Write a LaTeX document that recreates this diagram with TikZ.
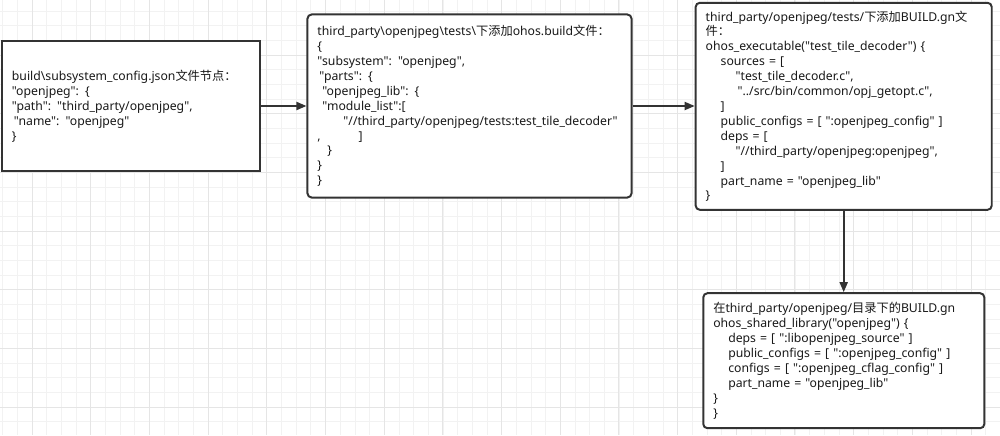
\documentclass[tikz,border=0pt]{standalone}
\usepackage{fontspec}
\setmainfont{Noto Sans}[Ligatures=TeXOff]
\newfontfamily\cjk{Noto Sans CJK SC}[Ligatures=TeXOff]
\usetikzlibrary{arrows.meta}
\newlength{\pxunit}
\setlength{\pxunit}{0.025cm}
\newcommand{\pxind}[1]{\hspace*{#1\pxunit}}

\begin{document}
\begin{tikzpicture}[x=0.025cm,y=-0.025cm,line width=.35pt,
  font=\fontsize{8.7pt}{10.6pt}\selectfont,
  gridminor/.style={draw=black!5,line width=.4pt},
  gridmajor/.style={draw=black!10,line width=.5pt},
  codebox/.style={draw=black!80,line width=1.4pt,fill=white,text=black!90,
    align=left,inner xsep=0.25cm,inner ysep=0pt},
  flow/.style={draw=black!80,line width=1.3pt,-{Triangle[length=0.25cm,width=0.2cm]}}]
% page and grid
\fill[white] (0,0) rectangle (1000,435);
\useasboundingbox (0,0) rectangle (1000,435);
\foreach \i in {0,...,68} \draw[gridminor] ({2.7+14.67*\i},0) -- ({2.7+14.67*\i},435);
\foreach \j in {0,...,29} \draw[gridminor] (0,{11+14.67*\j}) -- (1000,{11+14.67*\j});
\foreach \i in {0,...,16} \draw[gridmajor] ({32+58.68*\i},0) -- ({32+58.68*\i},435);
\foreach \j in {-1,...,6} \draw[gridmajor] (0,{55+58.68*\j}) -- (1000,{55+58.68*\j});
% boxes
\node[codebox,text width=5.95cm,minimum height=3.25cm] (cfg) at (131,106) {%
build\textbackslash subsystem\_config.json{\cjk 文件节点：}\\
"openjpeg": \{\\
"path": "third\_party/openjpeg",\\
\pxind{2}"name": "openjpeg"\\
\}};
\node[codebox,rounded corners=3pt,text width=7.6cm,minimum height=4.575cm] (tests) at (469.5,106) {%
third\_party\textbackslash openjpeg\textbackslash tests\textbackslash{\cjk 下添加}ohos.build{\cjk 文件：}\\
\{\\
"subsystem": "openjpeg",\\
\pxind{2}"parts": \{\\
\pxind{5}"openjpeg\_lib": \{\\
\pxind{5}"module\_list":[\\
\pxind{26}\mbox{"//third\_party/openjpeg/tests:test\_tile\_decoder"}\\
,\pxind{38}]\\
\pxind{10}\}\\
\}\\
\}};
\node[codebox,rounded corners=3pt,text width=6.9cm,minimum height=5.175cm] (gn) at (843.7,106.3) {%
third\_party/openjpeg/tests/{\cjk 下添加}BUILD.gn{\cjk 文}\\
{\cjk 件：}\\
ohos\_executable("test\_tile\_decoder") \{\\
\pxind{15}sources = [\\
\pxind{30}"test\_tile\_decoder.c",\\
\pxind{32}"../src/bin/common/opj\_getopt.c",\\
\pxind{15}]\\
\pxind{15}public\_configs = [ ":openjpeg\_config" ]\\
\pxind{15}deps = [\\
\pxind{30}"//third\_party/openjpeg:openjpeg",\\
\pxind{15}]\\
\pxind{15}part\_name = "openjpeg\_lib"\\
\}};
\node[codebox,rounded corners=3pt,text width=6.525cm,minimum height=3.375cm] (lib) at (843.8,360.7) {%
{\cjk 在}third\_party/openjpeg/{\cjk 目录下的}BUILD.gn\\
ohos\_shared\_library("openjpeg") \{\\
\pxind{15}deps = [ ":libopenjpeg\_source" ]\\
\pxind{15}public\_configs = [ ":openjpeg\_config" ]\\
\pxind{15}configs = [ ":openjpeg\_cflag\_config" ]\\
\pxind{15}part\_name = "openjpeg\_lib"\\
\}\\
\}};
% arrows
\draw[flow] (cfg.east) -- (cfg.east -| tests.west);
\draw[flow] (tests.east) -- (tests.east -| gn.west);
\draw[flow] (gn.south) -- (gn.south |- lib.north);
\end{tikzpicture}
\end{document}
